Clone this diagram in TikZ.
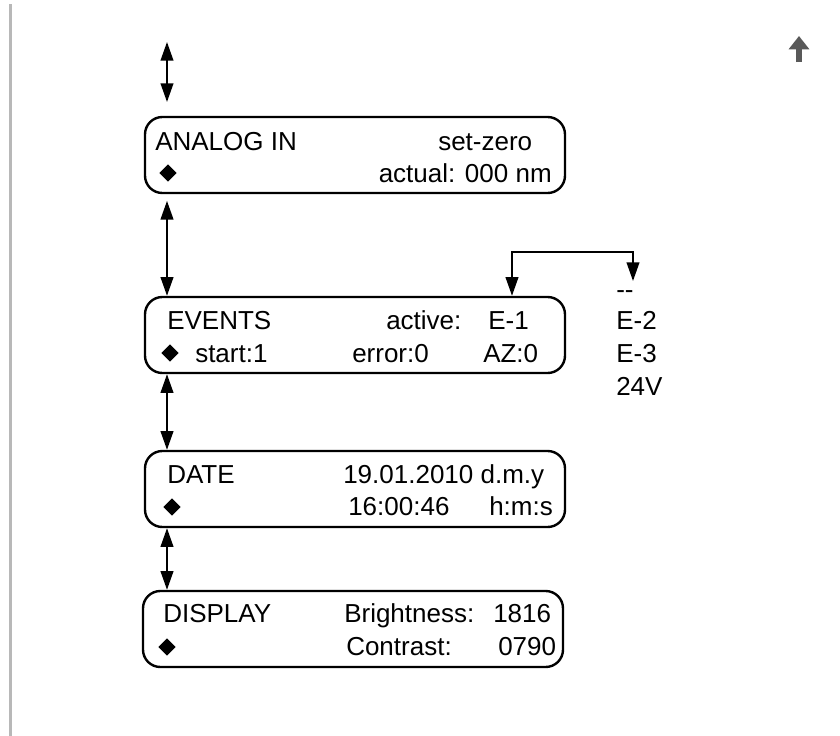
\documentclass[tikz,border=0pt]{standalone}
\usepackage{fontspec}
\setmainfont{Liberation Sans}
\usetikzlibrary{arrows.meta,shapes.geometric,positioning}

\begin{document}
\begin{tikzpicture}[x=0.75pt, y=-0.75pt,
    scr/.style={draw, line width=1.8pt, rounded corners=13pt, minimum width=315pt, minimum height=57pt},
    arr/.style={{Triangle[length=14pt,width=9.5pt]}-{Triangle[length=14pt,width=9.5pt]}, line width=1.4pt},
    txt/.style={inner sep=0pt, font=\fontsize{19.5}{23}\selectfont},
    dia/.style={diamond, fill=black, inner sep=0pt, minimum size=13pt},
    upicon/.style={-{Triangle[length=10pt,width=15pt]}, line width=4.5pt, black!65}
]
\useasboundingbox (0,0) rectangle (840,736);
\fill[black!28] (9,4) rectangle (12,736);

% screens
\node[scr] (analog) at (355,155) {};
\node[scr] (events) at (355,335) {};
\node[scr] (date) at (355,489) {};
\node[scr] (disp) at (353,629) {};

% texts
\node[txt, anchor=base west] (antitle) at (155,150) {ANALOG IN};
\node[txt, anchor=base west] (anzero) at (438,150) {set-zero};
\node[dia] (andia) at (168,173) {};
\node[txt, anchor=base east] (anact) at (552,182) {actual: 000 nm};

\node[txt, anchor=base west] (evtitle) at (167,329) {EVENTS};
\node[txt, anchor=base west] (evact) at (386,329) {active:};
\node[txt, anchor=base west] (evsel) at (488,329) {E-1};
\node[dia] (evdia) at (170,353) {};
\node[txt, anchor=base west] (evstart) at (195,362) {start:1};
\node[txt, anchor=base west] (everr) at (352,362) {error:0};
\node[txt, anchor=base west] (evaz) at (483,362) {AZ:0};

\node[txt, anchor=base west] (dttitle) at (167,483) {DATE};
\node[txt, anchor=base west] (dtday) at (343,483) {19.01.2010 d.m.y};
\node[dia] (dtdia) at (172,507) {};
\node[txt, anchor=base west] (dttime) at (348,515) {16:00:46};
\node[txt, anchor=base west] (dthms) at (489,515) {h:m:s};

\node[txt, anchor=base west] (dptitle) at (163,622) {DISPLAY};
\node[txt, anchor=base west] (dpbright) at (344,622) {Brightness:};
\node[txt, anchor=base west] (dpbval) at (493,622) {1816};
\node[dia] (dpdia) at (167,647) {};
\node[txt, anchor=base west] (dpcon) at (346,655) {Contrast:};
\node[txt, anchor=base west] (dpcval) at (498,655) {0790};

% choices for active
\node[txt, anchor=base west] (opnone) at (616,298) {-{}-};
\node[txt, anchor=base west] (optwo) at (616,329) {E-2};
\node[txt, anchor=base west] (opthree) at (616,362) {E-3};
\node[txt, anchor=base west] (opvolt) at (616,395) {24V};

% connections
\coordinate (top) at (167,42);
\coordinate (topend) at (167,102);
\coordinate (brk) at (512,252);
\coordinate (sel) at (633,281);
\draw[arr] (top) -- (topend);
\draw[arr] ([yshift=-5pt]analog.south -| top) -- (events.north -| top);
\draw[arr] (events.south -| top) -- (date.north -| top);
\draw[arr] (date.south -| top) -- (disp.north -| top);
\draw[arr] (events.north -| brk) -- (brk) -| (sel);

% scroll mark
\coordinate (upa) at (799,62);
\coordinate (upb) at (799,36);
\draw[upicon] (upa) -- (upb);
\end{tikzpicture}
\end{document}
